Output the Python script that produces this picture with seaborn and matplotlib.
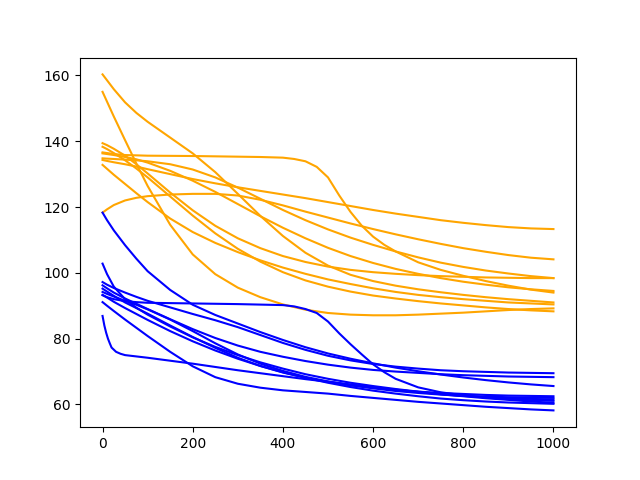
import matplotlib
matplotlib.use("Agg")
import matplotlib.pyplot as plt
import seaborn as sns
import pandas as pd

# shared x positions
X_GRID = [0, 10, 25, 50, 75, 100, 150, 200, 250, 300, 350, 400, 450, 500,
          550, 600, 650, 700, 750, 800, 850, 900, 950, 1000]
# finer x positions for curves with sharp bends
X_FLAT_ORANGE = [0, 25, 50, 100, 200, 300, 350, 400, 425, 450, 475, 500, 525, 550, 575,
                 600, 625, 650, 700, 750, 800, 850, 900, 950, 1000]
X_FAST_BLUE = [0, 4, 8, 12, 16, 20, 30, 40, 50, 75, 100, 150, 200, 250, 300, 350, 400,
               450, 500, 550, 600, 650, 700, 750, 800, 850, 900, 950, 1000]
X_FLAT_BLUE = [0, 10, 25, 50, 75, 100, 150, 200, 300, 400, 425, 450, 475, 500, 525, 550,
               575, 600, 625, 650, 700, 750, 800, 850, 900, 950, 1000]

# orange series
ORANGE_A = [160.3, 158.5, 155.8, 151.8, 148.6, 145.9, 141.1, 136.3, 130.6, 124.0, 117.3, 111.2,
            106.1, 102.2, 99.4, 97.5, 96.1, 95.0, 94.1, 93.3, 92.6, 92.0, 91.5, 91.0]
ORANGE_B = [155.0, 152.0, 147.5, 140.3, 133.2, 126.4, 114.6, 105.6, 99.6, 95.5, 92.6, 90.4,
            88.8, 87.8, 87.3, 87.1, 87.1, 87.3, 87.6, 87.9, 88.3, 88.7, 89.0, 89.2]
ORANGE_C = [132.8, 131.6, 129.8, 127.0, 124.2, 121.5, 116.5, 112.4, 109.1, 106.3, 103.8, 101.6,
            99.7, 98.0, 96.6, 95.3, 94.2, 93.3, 92.6, 92.0, 91.5, 91.0, 90.7, 90.4]
ORANGE_F = [136.6, 136.1, 135.8, 135.6, 135.5, 135.3, 135.2, 135.0, 134.6, 133.9, 132.2, 129.0,
            123.5, 118.5, 114.3, 111.0, 108.5, 106.5, 103.2, 100.9, 99.1, 97.5, 96.1, 94.9, 94.0]
ORANGE_P = [134.3, 134.0, 133.6, 133.0, 132.3, 131.5, 130.0, 128.5, 127.2, 126.0, 124.9, 123.8,
            122.7, 121.5, 120.3, 119.1, 118.0, 117.0, 116.0, 115.2, 114.5, 113.9, 113.5, 113.3]
ORANGE_Q = [118.3, 119.3, 120.6, 122.0, 122.8, 123.3, 123.8, 124.0, 124.0, 123.5, 122.2, 120.5,
            118.6, 116.8, 115.0, 113.3, 111.7, 110.2, 108.8, 107.5, 106.4, 105.4, 104.6, 104.1]
ORANGE_R = [134.8, 134.7, 134.6, 134.4, 134.2, 133.9, 133.0, 131.4, 129.0, 125.9, 122.5, 119.1,
            116.0, 113.2, 110.7, 108.5, 106.5, 104.7, 103.1, 101.8, 100.7, 99.8, 99.0, 98.4]
ORANGE_S = [136.3, 136.1, 135.8, 135.2, 134.5, 133.5, 131.0, 128.0, 124.6, 120.9, 117.2, 113.7,
            110.5, 107.6, 105.1, 103.0, 101.2, 99.7, 98.4, 97.3, 96.4, 95.6, 95.0, 94.5]
ORANGE_T = [139.4, 138.8, 137.7, 135.6, 133.0, 130.2, 124.4, 119.0, 114.3, 110.5, 107.5, 105.1,
            103.3, 101.9, 100.9, 100.2, 99.7, 99.3, 99.0, 98.8, 98.6, 98.5, 98.4, 98.4]
ORANGE_U = [138.3, 137.6, 136.4, 134.2, 131.7, 129.0, 123.2, 117.4, 112.0, 107.3, 103.4, 100.2,
            97.7, 95.8, 94.3, 93.1, 92.2, 91.4, 90.7, 90.1, 89.5, 89.0, 88.6, 88.3]

# blue series
BLUE_1 = [118.3, 116.0, 112.9, 108.4, 104.3, 100.5, 94.8, 90.3, 87.2, 84.6, 82.0, 79.6,
          77.4, 75.5, 73.9, 72.5, 71.2, 70.1, 69.1, 68.2, 67.4, 66.7, 66.1, 65.6]
BLUE_2 = [86.9, 84.0, 81.8, 80.0, 78.6, 77.3, 76.0, 75.4, 75.0, 74.6, 74.2, 73.3, 72.4,
          71.4, 70.4, 69.5, 68.6, 67.7, 66.9, 66.1, 65.3, 64.5, 63.8, 63.1, 62.5, 61.9,
          61.4, 60.9, 60.5]
BLUE_3 = [91.1, 90.0, 88.4, 85.8, 83.3, 80.8, 76.0, 71.6, 68.3, 66.3, 65.1, 64.3,
          63.8, 63.3, 62.6, 62.0, 61.4, 60.8, 60.3, 59.8, 59.3, 58.9, 58.5, 58.2]
BLUE_4 = [93.2, 92.6, 92.0, 91.4, 91.1, 90.9, 90.8, 90.7, 90.5, 90.2, 89.8, 89.0, 87.8,
          85.2, 81.6, 78.3, 75.2, 72.2, 69.8, 67.8, 65.2, 63.7, 62.8, 62.1, 61.6, 61.3, 61.1]
BLUE_5 = [97.2, 96.4, 95.4, 94.0, 92.7, 91.5, 89.5, 87.5, 85.6, 83.5, 81.1, 78.7,
          76.6, 74.8, 73.4, 72.3, 71.5, 70.9, 70.4, 70.1, 69.9, 69.7, 69.6, 69.5]
BLUE_6 = [96.2, 95.3, 94.0, 92.2, 90.6, 89.0, 85.9, 82.9, 80.2, 77.9, 76.0, 74.5,
          73.2, 72.1, 71.2, 70.5, 70.0, 69.6, 69.2, 68.9, 68.7, 68.5, 68.4, 68.3]
BLUE_7 = [95.2, 94.3, 93.0, 91.0, 89.3, 87.6, 84.0, 80.5, 77.2, 74.2, 71.7, 69.7,
          68.1, 66.9, 65.9, 65.1, 64.4, 63.9, 63.5, 63.2, 62.9, 62.7, 62.6, 62.5]
BLUE_8 = [94.2, 93.6, 92.8, 91.5, 90.3, 88.9, 85.8, 82.3, 78.6, 75.2, 72.4, 70.2,
          68.4, 67.0, 65.8, 64.9, 64.1, 63.5, 63.0, 62.6, 62.4, 62.2, 62.1, 62.0]
BLUE_9 = [102.8, 99.6, 95.8, 92.0, 89.4, 87.3, 83.7, 80.4, 77.5, 75.0, 72.8, 70.9,
          69.2, 67.8, 66.6, 65.6, 64.7, 63.9, 63.2, 62.6, 62.2, 61.9, 61.7, 61.5]
BLUE_10 = [93.3, 92.5, 91.2, 89.3, 87.5, 85.7, 82.3, 79.2, 76.4, 73.9, 71.7, 69.8,
           68.1, 66.6, 65.3, 64.2, 63.3, 62.5, 61.8, 61.3, 60.9, 60.6, 60.4, 60.2]

ORANGE_SERIES = [(X_GRID, ORANGE_A), (X_GRID, ORANGE_B), (X_GRID, ORANGE_C),
                 (X_FLAT_ORANGE, ORANGE_F), (X_GRID, ORANGE_P), (X_GRID, ORANGE_Q),
                 (X_GRID, ORANGE_R), (X_GRID, ORANGE_S), (X_GRID, ORANGE_T),
                 (X_GRID, ORANGE_U)]
BLUE_SERIES = [(X_GRID, BLUE_1), (X_FAST_BLUE, BLUE_2), (X_GRID, BLUE_3),
               (X_FLAT_BLUE, BLUE_4), (X_GRID, BLUE_5), (X_GRID, BLUE_6),
               (X_GRID, BLUE_7), (X_GRID, BLUE_8), (X_GRID, BLUE_9), (X_GRID, BLUE_10)]

rows = []
run = 0
for group, series in (("orange", ORANGE_SERIES), ("blue", BLUE_SERIES)):
    for xs, ys in series:
        for x, y in zip(xs, ys):
            rows.append({"x": x, "y": y, "run": run, "group": group})
        run += 1
df = pd.DataFrame(rows)

fig, ax = plt.subplots(figsize=(6.4, 4.8), dpi=100)
sns.lineplot(data=df, x="x", y="y", units="run", hue="group",
             palette={"orange": "orange", "blue": "blue"},
             hue_order=["orange", "blue"], estimator=None,
             legend=False, linewidth=1.5, sort=False, ax=ax)
ax.set_xlabel("")
ax.set_ylabel("")
fig.savefig("out.png", dpi=100)
